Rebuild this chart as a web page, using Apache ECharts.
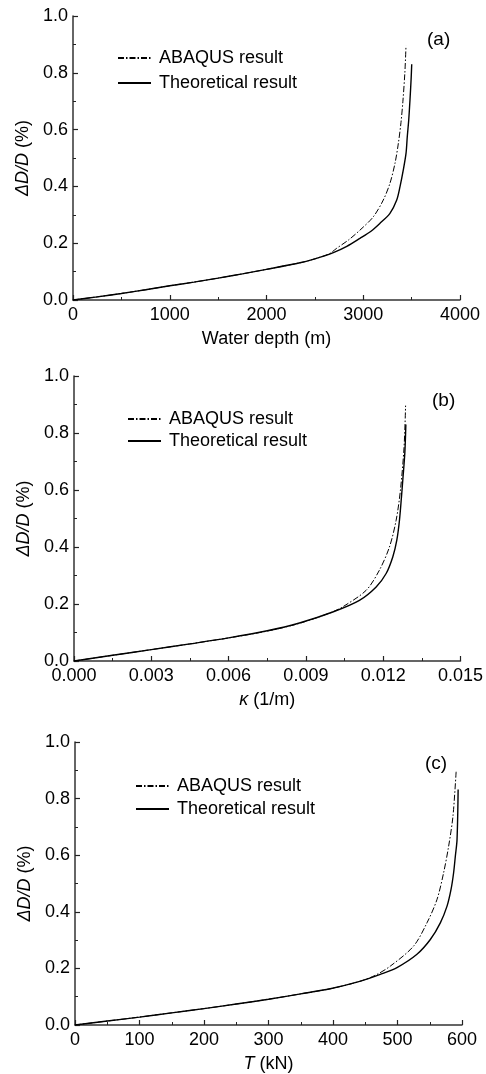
<!DOCTYPE html>
<html>
<head>
<meta charset="utf-8">
<script src="https://cdn.jsdelivr.net/npm/echarts@6/dist/echarts.min.js"></script>
<style>
  html, body { margin: 0; padding: 0; background: #fff; }
  #chart { width: 486px; height: 1074px; }
</style>
</head>
<body>
<div id="chart"></div>
<script>
// (a) water depth
const aDepthTheory = [0, 250, 500, 750, 1000, 1250, 1500, 1750, 2000, 2346, 2500, 2691, 2830, 2966, 3080, 3173, 3276, 3346, 3380, 3414, 3442, 3455, 3470, 3483, 3495, 3501];
const aTheory = [0, 0.011, 0.023, 0.036, 0.050, 0.063, 0.077, 0.092, 0.108, 0.131, 0.145, 0.167, 0.189, 0.217, 0.242, 0.270, 0.305, 0.352, 0.399, 0.458, 0.516, 0.575, 0.634, 0.704, 0.78, 0.83];
const aDepthAbaqus = [0, 250, 500, 750, 1000, 1250, 1500, 1750, 2000, 2346, 2500, 2650, 2725, 2850, 2966, 3104, 3207, 3276, 3328, 3363, 3390, 3410, 3430, 3442];
const aAbaqus = [0, 0.011, 0.023, 0.036, 0.050, 0.063, 0.077, 0.092, 0.108, 0.131, 0.145, 0.163, 0.182, 0.212, 0.246, 0.293, 0.352, 0.411, 0.481, 0.552, 0.625, 0.70, 0.80, 0.895];

// (b) curvature
const bKTheory = [0, 0.0015, 0.003, 0.0045, 0.006, 0.0075, 0.008749, 0.010042, 0.011078, 0.011727, 0.012115, 0.012372, 0.012529, 0.012632, 0.01271, 0.012761, 0.01284, 0.01288];
const bTheory = [0, 0.020, 0.040, 0.060, 0.081, 0.106, 0.1335, 0.172, 0.213, 0.26, 0.307, 0.365, 0.424, 0.494, 0.576, 0.635, 0.73, 0.83];
const bKAbaqus = [0, 0.0015, 0.003, 0.0045, 0.006, 0.0075, 0.008749, 0.01, 0.01043, 0.011339, 0.011855, 0.012243, 0.012503, 0.01267, 0.01281, 0.01287];
const bAbaqus = [0, 0.020, 0.040, 0.060, 0.081, 0.105, 0.132, 0.171, 0.19, 0.248, 0.319, 0.40, 0.494, 0.60, 0.75, 0.896];

// (c) tension
const cTTheory = [0, 50, 100, 150, 200, 250, 300, 350, 395.7, 440, 473.3, 499.2, 530.2, 550.9, 566.4, 576.8, 583, 587, 589.7, 592.3, 594];
const cTheory = [0, 0.014, 0.028, 0.043, 0.058, 0.074, 0.091, 0.110, 0.128, 0.153, 0.179, 0.203, 0.25, 0.302, 0.361, 0.42, 0.479, 0.538, 0.597, 0.655, 0.832];
const cTAbaqus = [0, 50, 100, 150, 200, 250, 300, 350, 395.7, 440, 465, 488.8, 525, 545.7, 561.3, 571.5, 579.3, 586, 591];
const cAbaqus = [0, 0.014, 0.028, 0.043, 0.058, 0.074, 0.091, 0.110, 0.128, 0.153, 0.175, 0.208, 0.279, 0.361, 0.444, 0.538, 0.632, 0.738, 0.899];

const panelLabels = ['(a)', '(b)', '(c)'];
const legendNames = ['ABAQUS result', 'Theoretical result'];

const FONT = '"Liberation Sans", Arial, sans-serif';
const pairs = (xs, ys) => xs.map((x, i) => [x, ys[i]]);

const grids = [
  { left: 73, top: 16, width: 387, height: 284 },
  { left: 74, top: 376, width: 387, height: 285 },
  { left: 75, top: 742, width: 387, height: 284 }
];

const axisCommon = {
  axisLine: { lineStyle: { color: '#333', width: 1.5 } },
  axisTick: { inside: true, length: 5, lineStyle: { color: '#222', width: 1.2 } },
  minorTick: { show: true, splitNumber: 2, length: 3, lineStyle: { color: '#222', width: 1 } },
  splitLine: { show: false },
  axisLabel: { color: '#000', fontSize: 18, fontFamily: FONT }
};

const xNames = [
  'Water depth (m)',
  '{i|κ}{n| (1/m)}',
  '{i|T}{n| (kN)}'
];
const xMax = [4000, 0.015, 600];
const xInt = [1000, 0.003, 100];
const xDigits = [0, 3, 0];

const nameRich = {
  i: { fontStyle: 'italic', fontSize: 18, fontFamily: FONT, color: '#000' },
  n: { fontSize: 18, fontFamily: FONT, color: '#000' }
};

const xAxes = [0, 1, 2].map(i => Object.assign({}, axisCommon, {
  type: 'value', gridIndex: i, min: 0, max: xMax[i], interval: xInt[i],
  name: xNames[i], nameLocation: 'middle', nameGap: 30,
  nameTextStyle: { fontSize: 18, fontFamily: FONT, color: '#000', rich: nameRich },
  axisLabel: Object.assign({}, axisCommon.axisLabel, {
    margin: 6,
    formatter: v => v.toFixed(xDigits[i])
  })
}));

const yAxes = [0, 1, 2].map(i => Object.assign({}, axisCommon, {
  type: 'value', gridIndex: i, min: 0, max: 1, interval: 0.2,
  name: '{i|ΔD/D}{n| (%)}', nameLocation: 'middle', nameGap: 40,
  nameTextStyle: { fontSize: 18, fontFamily: FONT, color: '#000', rich: nameRich },
  axisLabel: Object.assign({}, axisCommon.axisLabel, {
    margin: 5,
    formatter: v => v.toFixed(1)
  })
}));

const abaqusData = [pairs(aDepthAbaqus, aAbaqus), pairs(bKAbaqus, bAbaqus), pairs(cTAbaqus, cAbaqus)];
const theoryData = [pairs(aDepthTheory, aTheory), pairs(bKTheory, bTheory), pairs(cTTheory, cTheory)];

const series = [];
for (let i = 0; i < 3; i++) {
  series.push({
    name: legendNames[0], type: 'line', xAxisIndex: i, yAxisIndex: i,
    data: abaqusData[i], symbol: 'none', smooth: 0.3, z: 3,
    itemStyle: { color: '#000' },
    lineStyle: { color: '#000', width: 1, type: [6, 2, 1.5, 2] }
  });
  series.push({
    name: legendNames[1], type: 'line', xAxisIndex: i, yAxisIndex: i,
    data: theoryData[i], symbol: 'none', smooth: 0.3, z: 2,
    itemStyle: { color: '#000' },
    lineStyle: { color: '#000', width: 1.4 }
  });
}

const legendPos = [
  { left: 112, top: 44, gap: 7 },
  { left: 122, top: 405, gap: 4 },
  { left: 130, top: 772, gap: 5 }
];
const legends = legendPos.map(p => ({
  left: p.left, top: p.top, orient: 'vertical',
  itemWidth: 33, itemHeight: 10, itemGap: p.gap,
  selectedMode: false,
  itemStyle: { opacity: 0 },
  data: legendNames,
  textStyle: { fontSize: 18, fontFamily: FONT, color: '#000', padding: [0, 0, 0, 3] }
}));

const titlePos = [
  { left: 427, top: 30 },
  { left: 432, top: 391 },
  { left: 425, top: 754 }
];
const titles = titlePos.map((p, i) => ({
  text: panelLabels[i], left: p.left, top: p.top, padding: 0,
  textStyle: { fontSize: 19, fontWeight: 'normal', fontFamily: FONT, color: '#000' }
}));

const chart = echarts.init(document.getElementById('chart'));
chart.setOption({
  animation: false,
  backgroundColor: '#fff',
  title: titles,
  legend: legends,
  grid: grids,
  xAxis: xAxes,
  yAxis: yAxes,
  series: series
});
</script>
</body>
</html>
